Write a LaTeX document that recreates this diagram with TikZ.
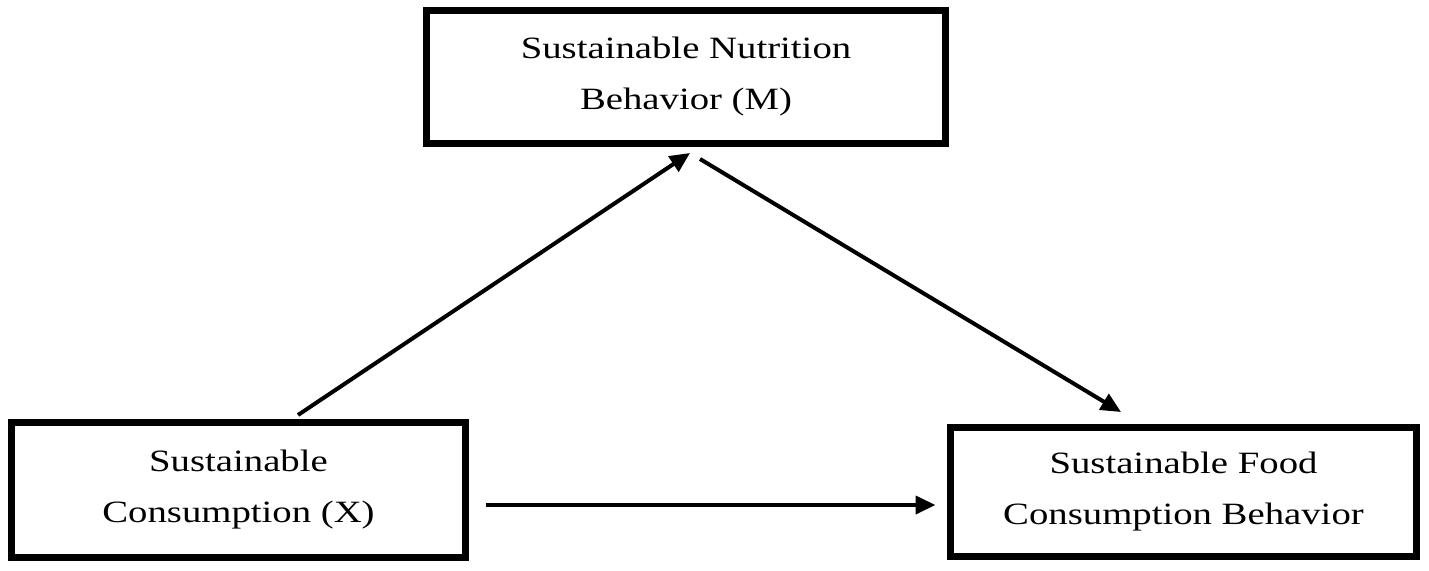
\documentclass[tikz,border=0pt]{standalone}
\usepackage{fontspec}
\setmainfont{Liberation Serif}[FakeStretch=1.25]
\usepackage{tikz}
\usetikzlibrary{arrows.meta}

\begin{document}
\begin{tikzpicture}[x=0.5pt, y=0.5pt,
			 caja/.style={draw, line width=3.5pt, outer sep=0pt, inner sep=0pt, align=center,
			 font=\fontsize{15.5}{25.5}\selectfont},
			 flecha/.style={line width=2pt, -{Triangle[length=10pt, width=9pt]}}
  		]
	\useasboundingbox (0,0) rectangle (1429,570);

	%Creamos las cajas
		\node[caja, minimum width=259.5pt, minimum height=66.5pt] (M) at (686,493) {Sustainable Nutrition\\Behavior (M)};
		\node[caja, minimum width=227pt, minimum height=67.5pt] (X) at (238.5,80) {Sustainable\\Consumption (X)};
		\node[caja, minimum width=233pt, minimum height=64.5pt] (Y) at (1183.5,78) {Sustainable Food\\Consumption Behavior};
	%Flechas
		\draw[flecha] ([xshift=29.75pt, yshift=3.75pt]X.north) -- ([xshift=2pt, yshift=-4.75pt]M.south);
		\draw[flecha] ([xshift=7pt, yshift=-7.75pt]M.south) -- ([xshift=-31.25pt, yshift=7.75pt]Y.north);
		\draw[flecha] ([xshift=10pt, yshift=-7.5pt]X.east) -- ([xshift=-7.5pt, yshift=-6.5pt]Y.west);
\end{tikzpicture}
\end{document}
